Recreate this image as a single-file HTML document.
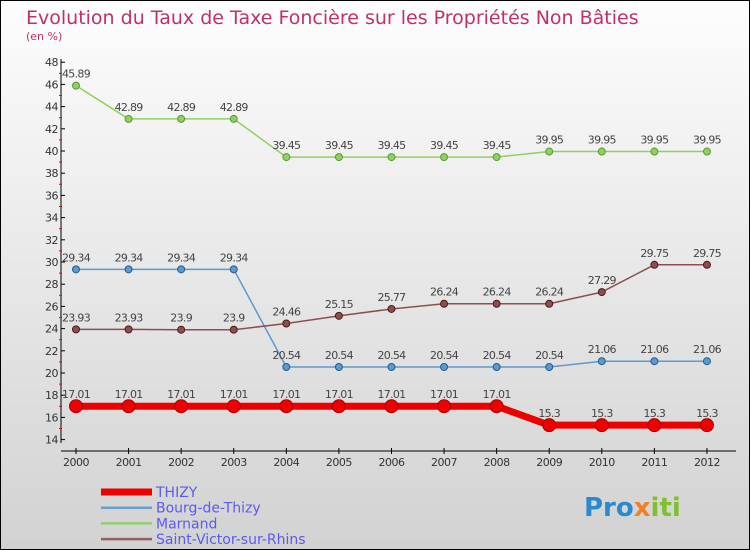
<!DOCTYPE html>
<html><head><meta charset="utf-8"><style>
body{margin:0;}
#c{width:750px;height:550px;position:relative;box-sizing:border-box;border:1px solid #000;background:linear-gradient(#fdfdfd,#d2d2d2);font-family:"DejaVu Sans","Liberation Sans",sans-serif;overflow:hidden}
</style></head><body>
<div id="c">
<svg width="750" height="550" style="position:absolute;left:0;top:0" id="svg">
<text x="25" y="23" font-size="19" fill="#c0306a">Evolution du Taux de Taxe Foncière sur les Propriétés Non Bâties</text>
<text x="25" y="39" font-size="11" fill="#c0306a">(en %)</text>
<g id="axes"></g><g id="series"></g><g id="legend"></g>
<text x="583" y="515" font-size="26" font-weight="bold" fill="#2a8ad0">Pro<tspan fill="#f08020">x</tspan><tspan fill="#80c030">iti</tspan></text>
</svg>
</div>
<script>
const years=[2000,2001,2002,2003,2004,2005,2006,2007,2008,2009,2010,2011,2012];
const thizy=[17.01,17.01,17.01,17.01,17.01,17.01,17.01,17.01,17.01,15.3,15.3,15.3,15.3];
const bourg=[29.34,29.34,29.34,29.34,20.54,20.54,20.54,20.54,20.54,20.54,21.06,21.06,21.06];
const marnand=[45.89,42.89,42.89,42.89,39.45,39.45,39.45,39.45,39.45,39.95,39.95,39.95,39.95];
const svictor=[23.93,23.93,23.9,23.9,24.46,25.15,25.77,26.24,26.24,26.24,27.29,29.75,29.75];
const yTicks=[14,16,18,20,22,24,26,28,30,32,34,36,38,40,42,44,46,48];
const NS="http://www.w3.org/2000/svg";
const x=i=>75+i*52.58;
const y=v=>150-(v-40)*11.1;
function mk(t,a,p){const e=document.createElementNS(NS,t);for(const k in a)e.setAttribute(k,a[k]);p.appendChild(e);return e;}
const ax=document.getElementById('axes');
let l=mk('line',{x1:60,y1:58,x2:60,y2:442,stroke:'#000'},ax);


l=mk('line',{x1:60,y1:450,x2:735,y2:450,stroke:'#000'},ax);


yTicks.forEach(v=>{
 mk('line',{x1:60,y1:y(v),x2:64,y2:y(v),stroke:'#000'},ax);
 if(v<48)mk('line',{x1:58,y1:y(v+1),x2:61,y2:y(v+1),stroke:'#e00'},ax);
 const t=mk('text',{x:57,y:y(v)+4,'font-size':11,fill:'#333','text-anchor':'end','letter-spacing':'-0.5'},ax);t.textContent=v;
 
 
});
years.forEach((yr,i)=>{
 mk('line',{x1:x(i),y1:447,x2:x(i),y2:453,stroke:'#000'},ax);
 const t=mk('text',{x:x(i),y:465,'font-size':11,fill:'#333','text-anchor':'middle','letter-spacing':'-0.5'},ax);t.textContent=yr;
 
 
});
const sg=document.getElementById('series');
function draw(data,col,dark,w,r,name){
 const g=mk('g',{},sg);
 
 
 mk('polyline',{points:data.map((v,i)=>x(i)+','+y(v)).join(' '),fill:'none',stroke:col,'stroke-width':w,'stroke-linejoin':'round'},g);
 data.forEach((v,i)=>{
  const c=mk('circle',{cx:x(i),cy:y(v),r:r,fill:col,stroke:dark,'stroke-width':1},g);
  
  
  const t=mk('text',{x:x(i),y:y(v)-8,'font-size':11,fill:'#444','text-anchor':'middle','letter-spacing':'-0.7'},g);t.textContent=v;
  
  
 });
}
draw(marnand,'#8fd060','#5a9a30',1.5,3.5,'marnand');
draw(bourg,'#5a9ad0','#2a5a8a',1.5,3.5,'bourg-de-thizy');
draw(svictor,'#8a5050','#501818',1.5,3.5,'saint-victor-sur-rhins');
draw(thizy,'#ee0000','#aa0000',7,6.5,'thizy');
const lg=document.getElementById('legend');
[['THIZY','#ee0000',7],['Bourg-de-Thizy','#6aa0c8',2.5],['Marnand','#90d070',2.5],['Saint-Victor-sur-Rhins','#906060',2.5]].forEach((e,i)=>{
 const yy=491+i*15.7;
 const g=mk('g',{},lg);
 
 
 mk('line',{x1:100,y1:yy,x2:151,y2:yy,stroke:e[1],'stroke-width':e[2]},g);
 const t=mk('text',{x:155,y:yy+5,'font-size':14,fill:'#5a5af0'},g);t.textContent=e[0];
});
</script>
</body></html>
